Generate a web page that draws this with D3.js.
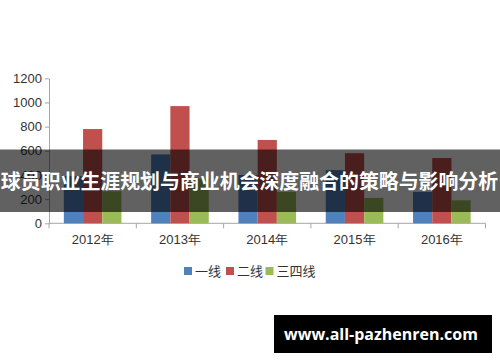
<!DOCTYPE html>
<html>
<head>
<meta charset="utf-8">
<script src="https://cdn.jsdelivr.net/npm/d3@7"></script>
<style>
    body { margin: 0; background: #fff; }
    svg { display: block; }
    .axis text { font-family: "Liberation Sans", Arial, sans-serif; font-size: 13px; fill: #333; }
    .axis path, .axis line { stroke: #a6a6a6; }
</style>
</head>
<body>
<div id="chart"></div>
<script>
// chart values
const years = ["2012年", "2013年", "2014年", "2015年", "2016年"];
const seriesNames = ["一线", "二线", "三四线"];
const tier1 = [390, 570, 400, 440, 260];
const tier2 = [780, 970, 690, 580, 540];
const tier34 = [265, 370, 260, 210, 190];
const yTicks = [0, 200, 400, 600, 800, 1000, 1200];
const colors = ["#4F81BD", "#C0504D", "#9BBB59"];
const bannerText = "球员职业生涯规划与商业机会深度融合的策略与影响分析";
const watermark = "www.all-pazhenren.com";

const data = years.map((y, i) => ({year: y, values: [tier1[i], tier2[i], tier34[i]]}));

const width = 500, height = 362;
const margin = {top: 78.3, left: 49, right: 14.5, bottom: 138.7};
const innerW = width - margin.left - margin.right;
const innerH = height - margin.top - margin.bottom;

const svg = d3.select("#chart").append("svg")
    .attr("width", width)
    .attr("height", height);

const chart = svg.append("g")
    .attr("transform", `translate(${margin.left},${margin.top})`);

// scales
const x0 = d3.scaleBand()
    .domain(years)
    .range([0, innerW])
    .paddingInner(0.34)
    .paddingOuter(0.17);

const x1 = d3.scaleBand()
    .domain(seriesNames)
    .range([0, x0.bandwidth()]);

const yScale = d3.scaleLinear()
    .domain([0, 1200])
    .range([innerH, 0]);

// y axis
chart.append("g")
    .attr("class", "axis y-axis")
    .call(d3.axisLeft(yScale)
        .tickValues(yTicks)
        .tickFormat(d3.format("d"))
        .tickSize(4)
        .tickPadding(3)
        .tickSizeOuter(0));

// x axis with ticks at category boundaries
const xAxisG = chart.append("g")
    .attr("class", "axis x-axis")
    .attr("transform", `translate(0,${innerH})`)
    .call(d3.axisBottom(x0).tickSize(0).tickPadding(11));
xAxisG.select(".domain").remove();
xAxisG.append("line")
    .attr("x1", 0).attr("x2", innerW)
    .attr("stroke", "#a6a6a6");
const step = x0.step();
xAxisG.selectAll(".sep")
    .data(d3.range(years.length + 1))
    .join("line")
    .attr("class", "sep")
    .attr("x1", i => i * step).attr("x2", i => i * step)
    .attr("y1", 0).attr("y2", 5)
    .attr("stroke", "#a6a6a6");

// bars
const groups = chart.selectAll(".group")
    .data(data)
    .join("g")
    .attr("class", "group")
    .attr("transform", d => `translate(${x0(d.year)},0)`);

groups.selectAll("rect")
    .data(d => d.values.map((v, i) => ({name: seriesNames[i], value: v, color: colors[i]})))
    .join("rect")
    .attr("x", d => x1(d.name))
    .attr("y", d => yScale(d.value))
    .attr("width", x1.bandwidth())
    .attr("height", d => innerH - yScale(d.value))
    .attr("fill", d => d.color);

// legend
const legend = svg.append("g")
    .attr("transform", "translate(184,271)");
const legendOffsets = [0, 42, 81.5];
seriesNames.forEach((name, i) => {
    const item = legend.append("g").attr("transform", `translate(${legendOffsets[i]},0)`);
    item.append("rect")
        .attr("x", 0).attr("y", -4)
        .attr("width", 8).attr("height", 8)
        .attr("fill", colors[i]);
    item.append("text")
        .attr("x", 11).attr("y", 0)
        .attr("dy", "0.35em")
        .style("font-family", "'Noto Sans CJK SC', sans-serif")
        .style("font-size", "13px")
        .style("fill", "#333")
        .text(name);
});

// dark banner over the middle
svg.append("rect")
    .attr("x", 0).attr("y", 149.5)
    .attr("width", width).attr("height", 62.5)
    .attr("fill", "#000")
    .attr("fill-opacity", 0.62);

svg.append("text")
    .attr("x", 249.5).attr("y", 182)
    .attr("dy", "0.35em")
    .attr("text-anchor", "middle")
    .style("font-family", "'Noto Sans CJK SC', sans-serif")
    .style("font-weight", "bold")
    .style("font-size", "19.9px")
    .style("fill", "#fff")
    .text(bannerText);

// watermark box
svg.append("rect")
    .attr("x", 274).attr("y", 315)
    .attr("width", 218).attr("height", 38)
    .attr("fill", "#000");

svg.append("text")
    .attr("x", 381).attr("y", 334.5)
    .attr("dy", "0.35em")
    .attr("text-anchor", "middle")
    .style("font-family", "'Open Sans', 'Noto Sans', sans-serif")
    .style("font-weight", "bold")
    .style("font-size", "16px")
    .style("fill", "#fff")
    .text(watermark);
</script>
</body>
</html>
